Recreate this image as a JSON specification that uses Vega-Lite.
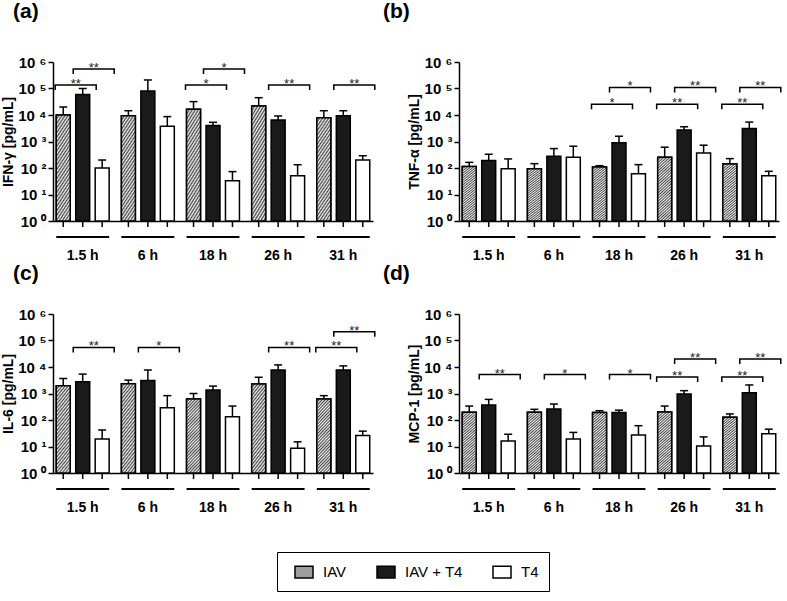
{
  "$schema": "https://vega.github.io/schema/vega-lite/v6.json",
  "padding": {"left": 1, "top": 1, "right": 3, "bottom": 3},
  "datasets": {
    "bars": [
      {"panel":"IFN","time":"1.5 h","group":"IAV","value":10000,"upper":20000},
      {"panel":"IFN","time":"1.5 h","group":"IAV + T4","value":60000,"upper":100000},
      {"panel":"IFN","time":"1.5 h","group":"T4","value":100,"upper":200},
      {"panel":"IFN","time":"6 h","group":"IAV","value":9400,"upper":14500},
      {"panel":"IFN","time":"6 h","group":"IAV + T4","value":80000,"upper":210000},
      {"panel":"IFN","time":"6 h","group":"T4","value":3800,"upper":8700},
      {"panel":"IFN","time":"18 h","group":"IAV","value":16500,"upper":32000},
      {"panel":"IFN","time":"18 h","group":"IAV + T4","value":4000,"upper":5300},
      {"panel":"IFN","time":"18 h","group":"T4","value":33,"upper":73},
      {"panel":"IFN","time":"26 h","group":"IAV","value":22000,"upper":45000},
      {"panel":"IFN","time":"26 h","group":"IAV + T4","value":6500,"upper":9200},
      {"panel":"IFN","time":"26 h","group":"T4","value":51,"upper":133},
      {"panel":"IFN","time":"31 h","group":"IAV","value":7900,"upper":14500},
      {"panel":"IFN","time":"31 h","group":"IAV + T4","value":9400,"upper":14500},
      {"panel":"IFN","time":"31 h","group":"T4","value":200,"upper":290},
      {"panel":"TNF","time":"1.5 h","group":"IAV","value":115,"upper":163},
      {"panel":"TNF","time":"1.5 h","group":"IAV + T4","value":190,"upper":330},
      {"panel":"TNF","time":"1.5 h","group":"T4","value":94,"upper":220},
      {"panel":"TNF","time":"6 h","group":"IAV","value":94,"upper":146},
      {"panel":"TNF","time":"6 h","group":"IAV + T4","value":276,"upper":540},
      {"panel":"TNF","time":"6 h","group":"T4","value":253,"upper":665},
      {"panel":"TNF","time":"18 h","group":"IAV","value":109,"upper":122},
      {"panel":"TNF","time":"18 h","group":"IAV + T4","value":890,"upper":1580},
      {"panel":"TNF","time":"18 h","group":"T4","value":61,"upper":134},
      {"panel":"TNF","time":"26 h","group":"IAV","value":253,"upper":610},
      {"panel":"TNF","time":"26 h","group":"IAV + T4","value":2700,"upper":3600},
      {"panel":"TNF","time":"26 h","group":"T4","value":372,"upper":725},
      {"panel":"TNF","time":"31 h","group":"IAV","value":142,"upper":226},
      {"panel":"TNF","time":"31 h","group":"IAV + T4","value":3100,"upper":5400},
      {"panel":"TNF","time":"31 h","group":"T4","value":51,"upper":75},
      {"panel":"IL6","time":"1.5 h","group":"IAV","value":1960,"upper":3700},
      {"panel":"IL6","time":"1.5 h","group":"IAV + T4","value":2800,"upper":5400},
      {"panel":"IL6","time":"1.5 h","group":"T4","value":19,"upper":42},
      {"panel":"IL6","time":"6 h","group":"IAV","value":2340,"upper":3200},
      {"panel":"IL6","time":"6 h","group":"IAV + T4","value":3100,"upper":7700},
      {"panel":"IL6","time":"6 h","group":"T4","value":290,"upper":830},
      {"panel":"IL6","time":"18 h","group":"IAV","value":620,"upper":1000},
      {"panel":"IL6","time":"18 h","group":"IAV + T4","value":1350,"upper":1900},
      {"panel":"IL6","time":"18 h","group":"T4","value":133,"upper":336},
      {"panel":"IL6","time":"26 h","group":"IAV","value":2300,"upper":4100},
      {"panel":"IL6","time":"26 h","group":"IAV + T4","value":7700,"upper":12000},
      {"panel":"IL6","time":"26 h","group":"T4","value":8.5,"upper":15},
      {"panel":"IL6","time":"31 h","group":"IAV","value":620,"upper":830},
      {"panel":"IL6","time":"31 h","group":"IAV + T4","value":7700,"upper":11000},
      {"panel":"IL6","time":"31 h","group":"T4","value":26,"upper":38},
      {"panel":"MCP","time":"1.5 h","group":"IAV","value":195,"upper":336},
      {"panel":"MCP","time":"1.5 h","group":"IAV + T4","value":370,"upper":600},
      {"panel":"MCP","time":"1.5 h","group":"T4","value":16,"upper":29},
      {"panel":"MCP","time":"6 h","group":"IAV","value":195,"upper":253},
      {"panel":"MCP","time":"6 h","group":"IAV + T4","value":260,"upper":400},
      {"panel":"MCP","time":"6 h","group":"T4","value":19,"upper":34},
      {"panel":"MCP","time":"18 h","group":"IAV","value":190,"upper":224},
      {"panel":"MCP","time":"18 h","group":"IAV + T4","value":190,"upper":235},
      {"panel":"MCP","time":"18 h","group":"T4","value":27,"upper":61},
      {"panel":"MCP","time":"26 h","group":"IAV","value":200,"upper":336},
      {"panel":"MCP","time":"26 h","group":"IAV + T4","value":960,"upper":1280},
      {"panel":"MCP","time":"26 h","group":"T4","value":10.5,"upper":23},
      {"panel":"MCP","time":"31 h","group":"IAV","value":126,"upper":170},
      {"panel":"MCP","time":"31 h","group":"IAV + T4","value":1070,"upper":2100},
      {"panel":"MCP","time":"31 h","group":"T4","value":30,"upper":45}
    ],
    "brackets": [
      {"panel":"IFN","time":"1.5 h","type":"A","level":135000,"label":"**"},
      {"panel":"IFN","time":"1.5 h","type":"B","level":550000,"label":"**"},
      {"panel":"IFN","time":"18 h","type":"A","level":135000,"label":"*"},
      {"panel":"IFN","time":"18 h","type":"B","level":550000,"label":"*"},
      {"panel":"IFN","time":"26 h","type":"B","level":135000,"label":"**"},
      {"panel":"IFN","time":"31 h","type":"B","level":135000,"label":"**"},
      {"panel":"TNF","time":"18 h","type":"A","level":25500,"label":"*"},
      {"panel":"TNF","time":"18 h","type":"B","level":110000,"label":"*"},
      {"panel":"TNF","time":"26 h","type":"A","level":25500,"label":"**"},
      {"panel":"TNF","time":"26 h","type":"B","level":110000,"label":"**"},
      {"panel":"TNF","time":"31 h","type":"A","level":25500,"label":"**"},
      {"panel":"TNF","time":"31 h","type":"B","level":110000,"label":"**"},
      {"panel":"IL6","time":"1.5 h","type":"B","level":55000,"label":"**"},
      {"panel":"IL6","time":"6 h","type":"B","level":55000,"label":"*"},
      {"panel":"IL6","time":"26 h","type":"B","level":55000,"label":"**"},
      {"panel":"IL6","time":"31 h","type":"A","level":55000,"label":"**"},
      {"panel":"IL6","time":"31 h","type":"B","level":215000,"label":"**"},
      {"panel":"MCP","time":"1.5 h","type":"B","level":5200,"label":"**"},
      {"panel":"MCP","time":"6 h","type":"B","level":5200,"label":"*"},
      {"panel":"MCP","time":"18 h","type":"B","level":5200,"label":"*"},
      {"panel":"MCP","time":"26 h","type":"A","level":4200,"label":"**"},
      {"panel":"MCP","time":"26 h","type":"B","level":20000,"label":"**"},
      {"panel":"MCP","time":"31 h","type":"A","level":4200,"label":"**"},
      {"panel":"MCP","time":"31 h","type":"B","level":20000,"label":"**"}
    ]
  },
  "columns": 2,
  "spacing": {"row": 93, "column": 86},
  "bounds": "flush",
  "concat": [
    {
      "width": 320, "height": 159,
      "title": {"text": "(a)", "dx": -40, "offset": 33},
      "data": {"name": "bars"},
      "transform": [{"filter": "datum.panel === 'IFN'"}],
      "layer": [
        {"mark": {"type": "bar", "stroke": "black", "strokeWidth": 1.5},
         "encoding": {
           "x": {"field": "time", "type": "nominal", "scale": {"domain": ["1.5 h","6 h","18 h","26 h","31 h"], "paddingInner": 0.188, "paddingOuter": 0.05}, "axis": {"title": null}},
           "xOffset": {"field": "group", "type": "nominal", "scale": {"domain": ["IAV","IAV + T4","T4"], "paddingInner": 0.282, "paddingOuter": 0}},
           "y": {"field": "value", "type": "quantitative", "scale": {"type": "log", "domain": [1, 1000000], "nice": false}, "axis": {"title": "IFN-γ [pg/mL]", "values": [1,10,100,1000,10000,100000,1000000], "labelExpr": "'10 ' + ['⁰','¹','²','³','⁴','⁵','⁶'][round(log(datum.value)/LN10)]"}},
           "y2": {"datum": 1},
           "fill": {"field": "group", "type": "nominal", "scale": {"domain": ["IAV","IAV + T4","T4"], "range": ["#9d9d9d","#1a1a1a","#ffffff"]},
             "legend": {"orient": "none", "legendX": 224, "legendY": 490, "direction": "horizontal", "title": null,
               "symbolType": "M-1,-0.65H1V0.65H-1Z", "symbolSize": 324, "symbolStrokeColor": "black", "symbolStrokeWidth": 1.5, "symbolOffset": 7,
               "labelFontSize": 15, "labelFont": "Liberation Sans", "labelColor": "black", "labelOffset": 9, "columnPadding": 22,
               "padding": 10, "strokeColor": "black", "fillColor": "white"}}
         }},
        {"transform": [{"filter": "datum.group === 'IAV'"}],
         "mark": {"type": "bar", "stroke": "black", "strokeWidth": 1.5, "fill": {"gradient": "linear", "x1": 0, "y1": 0, "x2": 0.25, "y2": 1.25, "stops": [
           {"offset":0,"color":"#4a4a4a"},{"offset":0.0167,"color":"#f2f2f2"},{"offset":0.0333,"color":"#4a4a4a"},{"offset":0.05,"color":"#f2f2f2"},{"offset":0.0667,"color":"#4a4a4a"},{"offset":0.0833,"color":"#f2f2f2"},{"offset":0.1,"color":"#4a4a4a"},{"offset":0.1167,"color":"#f2f2f2"},{"offset":0.1333,"color":"#4a4a4a"},{"offset":0.15,"color":"#f2f2f2"},{"offset":0.1667,"color":"#4a4a4a"},{"offset":0.1833,"color":"#f2f2f2"},{"offset":0.2,"color":"#4a4a4a"},{"offset":0.2167,"color":"#f2f2f2"},{"offset":0.2333,"color":"#4a4a4a"},{"offset":0.25,"color":"#f2f2f2"},{"offset":0.2667,"color":"#4a4a4a"},{"offset":0.2833,"color":"#f2f2f2"},{"offset":0.3,"color":"#4a4a4a"},{"offset":0.3167,"color":"#f2f2f2"},{"offset":0.3333,"color":"#4a4a4a"},{"offset":0.35,"color":"#f2f2f2"},{"offset":0.3667,"color":"#4a4a4a"},{"offset":0.3833,"color":"#f2f2f2"},{"offset":0.4,"color":"#4a4a4a"},{"offset":0.4167,"color":"#f2f2f2"},{"offset":0.4333,"color":"#4a4a4a"},{"offset":0.45,"color":"#f2f2f2"},{"offset":0.4667,"color":"#4a4a4a"},{"offset":0.4833,"color":"#f2f2f2"},{"offset":0.5,"color":"#4a4a4a"},{"offset":0.5167,"color":"#f2f2f2"},{"offset":0.5333,"color":"#4a4a4a"},{"offset":0.55,"color":"#f2f2f2"},{"offset":0.5667,"color":"#4a4a4a"},{"offset":0.5833,"color":"#f2f2f2"},{"offset":0.6,"color":"#4a4a4a"},{"offset":0.6167,"color":"#f2f2f2"},{"offset":0.6333,"color":"#4a4a4a"},{"offset":0.65,"color":"#f2f2f2"},{"offset":0.6667,"color":"#4a4a4a"},{"offset":0.6833,"color":"#f2f2f2"},{"offset":0.7,"color":"#4a4a4a"},{"offset":0.7167,"color":"#f2f2f2"},{"offset":0.7333,"color":"#4a4a4a"},{"offset":0.75,"color":"#f2f2f2"},{"offset":0.7667,"color":"#4a4a4a"},{"offset":0.7833,"color":"#f2f2f2"},{"offset":0.8,"color":"#4a4a4a"},{"offset":0.8167,"color":"#f2f2f2"},{"offset":0.8333,"color":"#4a4a4a"},{"offset":0.85,"color":"#f2f2f2"},{"offset":0.8667,"color":"#4a4a4a"},{"offset":0.8833,"color":"#f2f2f2"},{"offset":0.9,"color":"#4a4a4a"},{"offset":0.9167,"color":"#f2f2f2"},{"offset":0.9333,"color":"#4a4a4a"},{"offset":0.95,"color":"#f2f2f2"},{"offset":0.9667,"color":"#4a4a4a"},{"offset":0.9833,"color":"#f2f2f2"},{"offset":1,"color":"#4a4a4a"}]}},
         "encoding": {"x": {"field": "time", "type": "nominal"}, "xOffset": {"field": "group", "type": "nominal"}, "y": {"field": "value", "type": "quantitative"}, "y2": {"datum": 1}}},
        {"mark": {"type": "rule", "stroke": "black", "strokeWidth": 1.5},
         "encoding": {"x": {"field": "time", "type": "nominal"}, "xOffset": {"field": "group", "type": "nominal"}, "y": {"field": "value", "type": "quantitative"}, "y2": {"field": "upper"}}},
        {"mark": {"type": "tick", "orient": "horizontal", "color": "black", "opacity": 1, "size": 8, "thickness": 1.5},
         "encoding": {"x": {"field": "time", "type": "nominal"}, "xOffset": {"field": "group", "type": "nominal"}, "y": {"field": "upper", "type": "quantitative"}}},
        {"mark": {"type": "rule", "stroke": "black", "strokeWidth": 1.5, "y2Offset": 6},
         "encoding": {"x": {"field": "time", "type": "nominal"}, "xOffset": {"field": "group", "type": "nominal"}, "y": {"datum": 1}, "y2": {"datum": 1}}},
        {"transform": [{"filter": "datum.group === 'IAV'"}],
         "mark": {"type": "bar", "fill": "black", "yOffset": 15, "y2Offset": 17},
         "encoding": {"x": {"field": "time", "type": "nominal"}, "y": {"datum": 1}, "y2": {"datum": 1}}},
        {"data": {"name": "brackets"}, "transform": [{"filter": "datum.panel === 'IFN' && datum.type === 'A'"}],
         "mark": {"type": "bar", "filled": false, "fill": null, "stroke": "black", "strokeWidth": 1.5, "width": 41, "xOffset": -7, "y2Offset": 5, "strokeDash": [46, 41, 5]},
         "encoding": {"x": {"field": "time", "type": "nominal"}, "y": {"field": "level", "type": "quantitative"}, "y2": {"field": "level"}}},
        {"data": {"name": "brackets"}, "transform": [{"filter": "datum.panel === 'IFN' && datum.type === 'B'"}],
         "mark": {"type": "bar", "filled": false, "fill": null, "stroke": "black", "strokeWidth": 1.5, "width": 41, "xOffset": 11, "y2Offset": 5, "strokeDash": [46, 41, 5]},
         "encoding": {"x": {"field": "time", "type": "nominal"}, "y": {"field": "level", "type": "quantitative"}, "y2": {"field": "level"}}},
        {"data": {"name": "brackets"}, "transform": [{"filter": "datum.panel === 'IFN' && datum.type === 'A'"}],
         "mark": {"type": "text", "xOffset": -7, "fontSize": 13, "color": "#222222", "baseline": "alphabetic", "dy": 3},
         "encoding": {"x": {"field": "time", "type": "nominal"}, "y": {"field": "level", "type": "quantitative"}, "text": {"field": "label"}}},
        {"data": {"name": "brackets"}, "transform": [{"filter": "datum.panel === 'IFN' && datum.type === 'B'"}],
         "mark": {"type": "text", "xOffset": 11, "fontSize": 13, "color": "#222222", "baseline": "alphabetic", "dy": 3},
         "encoding": {"x": {"field": "time", "type": "nominal"}, "y": {"field": "level", "type": "quantitative"}, "text": {"field": "label"}}}
      ]
    },
    {
      "width": 320, "height": 159,
      "title": {"text": "(b)", "dx": -76, "offset": 33},
      "data": {"name": "bars"},
      "transform": [{"filter": "datum.panel === 'TNF'"}],
      "layer": [
        {"mark": {"type": "bar", "stroke": "black", "strokeWidth": 1.5},
         "encoding": {
           "x": {"field": "time", "type": "nominal", "scale": {"domain": ["1.5 h","6 h","18 h","26 h","31 h"], "paddingInner": 0.188, "paddingOuter": 0.05}, "axis": {"title": null}},
           "xOffset": {"field": "group", "type": "nominal", "scale": {"domain": ["IAV","IAV + T4","T4"], "paddingInner": 0.282, "paddingOuter": 0}},
           "y": {"field": "value", "type": "quantitative", "scale": {"type": "log", "domain": [1, 1000000], "nice": false}, "axis": {"title": "TNF-α [pg/mL]", "values": [1,10,100,1000,10000,100000,1000000], "labelExpr": "'10 ' + ['⁰','¹','²','³','⁴','⁵','⁶'][round(log(datum.value)/LN10)]"}},
           "y2": {"datum": 1},
           "fill": {"field": "group", "type": "nominal", "scale": {"domain": ["IAV","IAV + T4","T4"], "range": ["#9d9d9d","#1a1a1a","#ffffff"]}}
         }},
        {"transform": [{"filter": "datum.group === 'IAV'"}],
         "mark": {"type": "bar", "stroke": "black", "strokeWidth": 1.5, "fill": {"gradient": "linear", "x1": 0, "y1": 0, "x2": 0.25, "y2": 1.25, "stops": [
           {"offset":0,"color":"#4a4a4a"},{"offset":0.0167,"color":"#f2f2f2"},{"offset":0.0333,"color":"#4a4a4a"},{"offset":0.05,"color":"#f2f2f2"},{"offset":0.0667,"color":"#4a4a4a"},{"offset":0.0833,"color":"#f2f2f2"},{"offset":0.1,"color":"#4a4a4a"},{"offset":0.1167,"color":"#f2f2f2"},{"offset":0.1333,"color":"#4a4a4a"},{"offset":0.15,"color":"#f2f2f2"},{"offset":0.1667,"color":"#4a4a4a"},{"offset":0.1833,"color":"#f2f2f2"},{"offset":0.2,"color":"#4a4a4a"},{"offset":0.2167,"color":"#f2f2f2"},{"offset":0.2333,"color":"#4a4a4a"},{"offset":0.25,"color":"#f2f2f2"},{"offset":0.2667,"color":"#4a4a4a"},{"offset":0.2833,"color":"#f2f2f2"},{"offset":0.3,"color":"#4a4a4a"},{"offset":0.3167,"color":"#f2f2f2"},{"offset":0.3333,"color":"#4a4a4a"},{"offset":0.35,"color":"#f2f2f2"},{"offset":0.3667,"color":"#4a4a4a"},{"offset":0.3833,"color":"#f2f2f2"},{"offset":0.4,"color":"#4a4a4a"},{"offset":0.4167,"color":"#f2f2f2"},{"offset":0.4333,"color":"#4a4a4a"},{"offset":0.45,"color":"#f2f2f2"},{"offset":0.4667,"color":"#4a4a4a"},{"offset":0.4833,"color":"#f2f2f2"},{"offset":0.5,"color":"#4a4a4a"},{"offset":0.5167,"color":"#f2f2f2"},{"offset":0.5333,"color":"#4a4a4a"},{"offset":0.55,"color":"#f2f2f2"},{"offset":0.5667,"color":"#4a4a4a"},{"offset":0.5833,"color":"#f2f2f2"},{"offset":0.6,"color":"#4a4a4a"},{"offset":0.6167,"color":"#f2f2f2"},{"offset":0.6333,"color":"#4a4a4a"},{"offset":0.65,"color":"#f2f2f2"},{"offset":0.6667,"color":"#4a4a4a"},{"offset":0.6833,"color":"#f2f2f2"},{"offset":0.7,"color":"#4a4a4a"},{"offset":0.7167,"color":"#f2f2f2"},{"offset":0.7333,"color":"#4a4a4a"},{"offset":0.75,"color":"#f2f2f2"},{"offset":0.7667,"color":"#4a4a4a"},{"offset":0.7833,"color":"#f2f2f2"},{"offset":0.8,"color":"#4a4a4a"},{"offset":0.8167,"color":"#f2f2f2"},{"offset":0.8333,"color":"#4a4a4a"},{"offset":0.85,"color":"#f2f2f2"},{"offset":0.8667,"color":"#4a4a4a"},{"offset":0.8833,"color":"#f2f2f2"},{"offset":0.9,"color":"#4a4a4a"},{"offset":0.9167,"color":"#f2f2f2"},{"offset":0.9333,"color":"#4a4a4a"},{"offset":0.95,"color":"#f2f2f2"},{"offset":0.9667,"color":"#4a4a4a"},{"offset":0.9833,"color":"#f2f2f2"},{"offset":1,"color":"#4a4a4a"}]}},
         "encoding": {"x": {"field": "time", "type": "nominal"}, "xOffset": {"field": "group", "type": "nominal"}, "y": {"field": "value", "type": "quantitative"}, "y2": {"datum": 1}}},
        {"mark": {"type": "rule", "stroke": "black", "strokeWidth": 1.5},
         "encoding": {"x": {"field": "time", "type": "nominal"}, "xOffset": {"field": "group", "type": "nominal"}, "y": {"field": "value", "type": "quantitative"}, "y2": {"field": "upper"}}},
        {"mark": {"type": "tick", "orient": "horizontal", "color": "black", "opacity": 1, "size": 8, "thickness": 1.5},
         "encoding": {"x": {"field": "time", "type": "nominal"}, "xOffset": {"field": "group", "type": "nominal"}, "y": {"field": "upper", "type": "quantitative"}}},
        {"mark": {"type": "rule", "stroke": "black", "strokeWidth": 1.5, "y2Offset": 6},
         "encoding": {"x": {"field": "time", "type": "nominal"}, "xOffset": {"field": "group", "type": "nominal"}, "y": {"datum": 1}, "y2": {"datum": 1}}},
        {"transform": [{"filter": "datum.group === 'IAV'"}],
         "mark": {"type": "bar", "fill": "black", "yOffset": 15, "y2Offset": 17},
         "encoding": {"x": {"field": "time", "type": "nominal"}, "y": {"datum": 1}, "y2": {"datum": 1}}},
        {"data": {"name": "brackets"}, "transform": [{"filter": "datum.panel === 'TNF' && datum.type === 'A'"}],
         "mark": {"type": "bar", "filled": false, "fill": null, "stroke": "black", "strokeWidth": 1.5, "width": 41, "xOffset": -7, "y2Offset": 5, "strokeDash": [46, 41, 5]},
         "encoding": {"x": {"field": "time", "type": "nominal"}, "y": {"field": "level", "type": "quantitative"}, "y2": {"field": "level"}}},
        {"data": {"name": "brackets"}, "transform": [{"filter": "datum.panel === 'TNF' && datum.type === 'B'"}],
         "mark": {"type": "bar", "filled": false, "fill": null, "stroke": "black", "strokeWidth": 1.5, "width": 41, "xOffset": 11, "y2Offset": 5, "strokeDash": [46, 41, 5]},
         "encoding": {"x": {"field": "time", "type": "nominal"}, "y": {"field": "level", "type": "quantitative"}, "y2": {"field": "level"}}},
        {"data": {"name": "brackets"}, "transform": [{"filter": "datum.panel === 'TNF' && datum.type === 'A'"}],
         "mark": {"type": "text", "xOffset": -7, "fontSize": 13, "color": "#222222", "baseline": "alphabetic", "dy": 3},
         "encoding": {"x": {"field": "time", "type": "nominal"}, "y": {"field": "level", "type": "quantitative"}, "text": {"field": "label"}}},
        {"data": {"name": "brackets"}, "transform": [{"filter": "datum.panel === 'TNF' && datum.type === 'B'"}],
         "mark": {"type": "text", "xOffset": 11, "fontSize": 13, "color": "#222222", "baseline": "alphabetic", "dy": 3},
         "encoding": {"x": {"field": "time", "type": "nominal"}, "y": {"field": "level", "type": "quantitative"}, "text": {"field": "label"}}}
      ]
    },
    {
      "width": 320, "height": 159,
      "title": {"text": "(c)", "dx": -40, "offset": 23},
      "data": {"name": "bars"},
      "transform": [{"filter": "datum.panel === 'IL6'"}],
      "layer": [
        {"mark": {"type": "bar", "stroke": "black", "strokeWidth": 1.5},
         "encoding": {
           "x": {"field": "time", "type": "nominal", "scale": {"domain": ["1.5 h","6 h","18 h","26 h","31 h"], "paddingInner": 0.188, "paddingOuter": 0.05}, "axis": {"title": null}},
           "xOffset": {"field": "group", "type": "nominal", "scale": {"domain": ["IAV","IAV + T4","T4"], "paddingInner": 0.282, "paddingOuter": 0}},
           "y": {"field": "value", "type": "quantitative", "scale": {"type": "log", "domain": [1, 1000000], "nice": false}, "axis": {"title": "IL-6 [pg/mL]", "values": [1,10,100,1000,10000,100000,1000000], "labelExpr": "'10 ' + ['⁰','¹','²','³','⁴','⁵','⁶'][round(log(datum.value)/LN10)]"}},
           "y2": {"datum": 1},
           "fill": {"field": "group", "type": "nominal", "scale": {"domain": ["IAV","IAV + T4","T4"], "range": ["#9d9d9d","#1a1a1a","#ffffff"]}}
         }},
        {"transform": [{"filter": "datum.group === 'IAV'"}],
         "mark": {"type": "bar", "stroke": "black", "strokeWidth": 1.5, "fill": {"gradient": "linear", "x1": 0, "y1": 0, "x2": 0.25, "y2": 1.25, "stops": [
           {"offset":0,"color":"#4a4a4a"},{"offset":0.0167,"color":"#f2f2f2"},{"offset":0.0333,"color":"#4a4a4a"},{"offset":0.05,"color":"#f2f2f2"},{"offset":0.0667,"color":"#4a4a4a"},{"offset":0.0833,"color":"#f2f2f2"},{"offset":0.1,"color":"#4a4a4a"},{"offset":0.1167,"color":"#f2f2f2"},{"offset":0.1333,"color":"#4a4a4a"},{"offset":0.15,"color":"#f2f2f2"},{"offset":0.1667,"color":"#4a4a4a"},{"offset":0.1833,"color":"#f2f2f2"},{"offset":0.2,"color":"#4a4a4a"},{"offset":0.2167,"color":"#f2f2f2"},{"offset":0.2333,"color":"#4a4a4a"},{"offset":0.25,"color":"#f2f2f2"},{"offset":0.2667,"color":"#4a4a4a"},{"offset":0.2833,"color":"#f2f2f2"},{"offset":0.3,"color":"#4a4a4a"},{"offset":0.3167,"color":"#f2f2f2"},{"offset":0.3333,"color":"#4a4a4a"},{"offset":0.35,"color":"#f2f2f2"},{"offset":0.3667,"color":"#4a4a4a"},{"offset":0.3833,"color":"#f2f2f2"},{"offset":0.4,"color":"#4a4a4a"},{"offset":0.4167,"color":"#f2f2f2"},{"offset":0.4333,"color":"#4a4a4a"},{"offset":0.45,"color":"#f2f2f2"},{"offset":0.4667,"color":"#4a4a4a"},{"offset":0.4833,"color":"#f2f2f2"},{"offset":0.5,"color":"#4a4a4a"},{"offset":0.5167,"color":"#f2f2f2"},{"offset":0.5333,"color":"#4a4a4a"},{"offset":0.55,"color":"#f2f2f2"},{"offset":0.5667,"color":"#4a4a4a"},{"offset":0.5833,"color":"#f2f2f2"},{"offset":0.6,"color":"#4a4a4a"},{"offset":0.6167,"color":"#f2f2f2"},{"offset":0.6333,"color":"#4a4a4a"},{"offset":0.65,"color":"#f2f2f2"},{"offset":0.6667,"color":"#4a4a4a"},{"offset":0.6833,"color":"#f2f2f2"},{"offset":0.7,"color":"#4a4a4a"},{"offset":0.7167,"color":"#f2f2f2"},{"offset":0.7333,"color":"#4a4a4a"},{"offset":0.75,"color":"#f2f2f2"},{"offset":0.7667,"color":"#4a4a4a"},{"offset":0.7833,"color":"#f2f2f2"},{"offset":0.8,"color":"#4a4a4a"},{"offset":0.8167,"color":"#f2f2f2"},{"offset":0.8333,"color":"#4a4a4a"},{"offset":0.85,"color":"#f2f2f2"},{"offset":0.8667,"color":"#4a4a4a"},{"offset":0.8833,"color":"#f2f2f2"},{"offset":0.9,"color":"#4a4a4a"},{"offset":0.9167,"color":"#f2f2f2"},{"offset":0.9333,"color":"#4a4a4a"},{"offset":0.95,"color":"#f2f2f2"},{"offset":0.9667,"color":"#4a4a4a"},{"offset":0.9833,"color":"#f2f2f2"},{"offset":1,"color":"#4a4a4a"}]}},
         "encoding": {"x": {"field": "time", "type": "nominal"}, "xOffset": {"field": "group", "type": "nominal"}, "y": {"field": "value", "type": "quantitative"}, "y2": {"datum": 1}}},
        {"mark": {"type": "rule", "stroke": "black", "strokeWidth": 1.5},
         "encoding": {"x": {"field": "time", "type": "nominal"}, "xOffset": {"field": "group", "type": "nominal"}, "y": {"field": "value", "type": "quantitative"}, "y2": {"field": "upper"}}},
        {"mark": {"type": "tick", "orient": "horizontal", "color": "black", "opacity": 1, "size": 8, "thickness": 1.5},
         "encoding": {"x": {"field": "time", "type": "nominal"}, "xOffset": {"field": "group", "type": "nominal"}, "y": {"field": "upper", "type": "quantitative"}}},
        {"mark": {"type": "rule", "stroke": "black", "strokeWidth": 1.5, "y2Offset": 6},
         "encoding": {"x": {"field": "time", "type": "nominal"}, "xOffset": {"field": "group", "type": "nominal"}, "y": {"datum": 1}, "y2": {"datum": 1}}},
        {"transform": [{"filter": "datum.group === 'IAV'"}],
         "mark": {"type": "bar", "fill": "black", "yOffset": 15, "y2Offset": 17},
         "encoding": {"x": {"field": "time", "type": "nominal"}, "y": {"datum": 1}, "y2": {"datum": 1}}},
        {"data": {"name": "brackets"}, "transform": [{"filter": "datum.panel === 'IL6' && datum.type === 'A'"}],
         "mark": {"type": "bar", "filled": false, "fill": null, "stroke": "black", "strokeWidth": 1.5, "width": 41, "xOffset": -7, "y2Offset": 5, "strokeDash": [46, 41, 5]},
         "encoding": {"x": {"field": "time", "type": "nominal"}, "y": {"field": "level", "type": "quantitative"}, "y2": {"field": "level"}}},
        {"data": {"name": "brackets"}, "transform": [{"filter": "datum.panel === 'IL6' && datum.type === 'B'"}],
         "mark": {"type": "bar", "filled": false, "fill": null, "stroke": "black", "strokeWidth": 1.5, "width": 41, "xOffset": 11, "y2Offset": 5, "strokeDash": [46, 41, 5]},
         "encoding": {"x": {"field": "time", "type": "nominal"}, "y": {"field": "level", "type": "quantitative"}, "y2": {"field": "level"}}},
        {"data": {"name": "brackets"}, "transform": [{"filter": "datum.panel === 'IL6' && datum.type === 'A'"}],
         "mark": {"type": "text", "xOffset": -7, "fontSize": 13, "color": "#222222", "baseline": "alphabetic", "dy": 3},
         "encoding": {"x": {"field": "time", "type": "nominal"}, "y": {"field": "level", "type": "quantitative"}, "text": {"field": "label"}}},
        {"data": {"name": "brackets"}, "transform": [{"filter": "datum.panel === 'IL6' && datum.type === 'B'"}],
         "mark": {"type": "text", "xOffset": 11, "fontSize": 13, "color": "#222222", "baseline": "alphabetic", "dy": 3},
         "encoding": {"x": {"field": "time", "type": "nominal"}, "y": {"field": "level", "type": "quantitative"}, "text": {"field": "label"}}}
      ]
    },
    {
      "width": 320, "height": 159,
      "title": {"text": "(d)", "dx": -76, "offset": 23},
      "data": {"name": "bars"},
      "transform": [{"filter": "datum.panel === 'MCP'"}],
      "layer": [
        {"mark": {"type": "bar", "stroke": "black", "strokeWidth": 1.5},
         "encoding": {
           "x": {"field": "time", "type": "nominal", "scale": {"domain": ["1.5 h","6 h","18 h","26 h","31 h"], "paddingInner": 0.188, "paddingOuter": 0.05}, "axis": {"title": null}},
           "xOffset": {"field": "group", "type": "nominal", "scale": {"domain": ["IAV","IAV + T4","T4"], "paddingInner": 0.282, "paddingOuter": 0}},
           "y": {"field": "value", "type": "quantitative", "scale": {"type": "log", "domain": [1, 1000000], "nice": false}, "axis": {"title": "MCP-1 [pg/mL]", "values": [1,10,100,1000,10000,100000,1000000], "labelExpr": "'10 ' + ['⁰','¹','²','³','⁴','⁵','⁶'][round(log(datum.value)/LN10)]"}},
           "y2": {"datum": 1},
           "fill": {"field": "group", "type": "nominal", "scale": {"domain": ["IAV","IAV + T4","T4"], "range": ["#9d9d9d","#1a1a1a","#ffffff"]}}
         }},
        {"transform": [{"filter": "datum.group === 'IAV'"}],
         "mark": {"type": "bar", "stroke": "black", "strokeWidth": 1.5, "fill": {"gradient": "linear", "x1": 0, "y1": 0, "x2": 0.25, "y2": 1.25, "stops": [
           {"offset":0,"color":"#4a4a4a"},{"offset":0.0167,"color":"#f2f2f2"},{"offset":0.0333,"color":"#4a4a4a"},{"offset":0.05,"color":"#f2f2f2"},{"offset":0.0667,"color":"#4a4a4a"},{"offset":0.0833,"color":"#f2f2f2"},{"offset":0.1,"color":"#4a4a4a"},{"offset":0.1167,"color":"#f2f2f2"},{"offset":0.1333,"color":"#4a4a4a"},{"offset":0.15,"color":"#f2f2f2"},{"offset":0.1667,"color":"#4a4a4a"},{"offset":0.1833,"color":"#f2f2f2"},{"offset":0.2,"color":"#4a4a4a"},{"offset":0.2167,"color":"#f2f2f2"},{"offset":0.2333,"color":"#4a4a4a"},{"offset":0.25,"color":"#f2f2f2"},{"offset":0.2667,"color":"#4a4a4a"},{"offset":0.2833,"color":"#f2f2f2"},{"offset":0.3,"color":"#4a4a4a"},{"offset":0.3167,"color":"#f2f2f2"},{"offset":0.3333,"color":"#4a4a4a"},{"offset":0.35,"color":"#f2f2f2"},{"offset":0.3667,"color":"#4a4a4a"},{"offset":0.3833,"color":"#f2f2f2"},{"offset":0.4,"color":"#4a4a4a"},{"offset":0.4167,"color":"#f2f2f2"},{"offset":0.4333,"color":"#4a4a4a"},{"offset":0.45,"color":"#f2f2f2"},{"offset":0.4667,"color":"#4a4a4a"},{"offset":0.4833,"color":"#f2f2f2"},{"offset":0.5,"color":"#4a4a4a"},{"offset":0.5167,"color":"#f2f2f2"},{"offset":0.5333,"color":"#4a4a4a"},{"offset":0.55,"color":"#f2f2f2"},{"offset":0.5667,"color":"#4a4a4a"},{"offset":0.5833,"color":"#f2f2f2"},{"offset":0.6,"color":"#4a4a4a"},{"offset":0.6167,"color":"#f2f2f2"},{"offset":0.6333,"color":"#4a4a4a"},{"offset":0.65,"color":"#f2f2f2"},{"offset":0.6667,"color":"#4a4a4a"},{"offset":0.6833,"color":"#f2f2f2"},{"offset":0.7,"color":"#4a4a4a"},{"offset":0.7167,"color":"#f2f2f2"},{"offset":0.7333,"color":"#4a4a4a"},{"offset":0.75,"color":"#f2f2f2"},{"offset":0.7667,"color":"#4a4a4a"},{"offset":0.7833,"color":"#f2f2f2"},{"offset":0.8,"color":"#4a4a4a"},{"offset":0.8167,"color":"#f2f2f2"},{"offset":0.8333,"color":"#4a4a4a"},{"offset":0.85,"color":"#f2f2f2"},{"offset":0.8667,"color":"#4a4a4a"},{"offset":0.8833,"color":"#f2f2f2"},{"offset":0.9,"color":"#4a4a4a"},{"offset":0.9167,"color":"#f2f2f2"},{"offset":0.9333,"color":"#4a4a4a"},{"offset":0.95,"color":"#f2f2f2"},{"offset":0.9667,"color":"#4a4a4a"},{"offset":0.9833,"color":"#f2f2f2"},{"offset":1,"color":"#4a4a4a"}]}},
         "encoding": {"x": {"field": "time", "type": "nominal"}, "xOffset": {"field": "group", "type": "nominal"}, "y": {"field": "value", "type": "quantitative"}, "y2": {"datum": 1}}},
        {"mark": {"type": "rule", "stroke": "black", "strokeWidth": 1.5},
         "encoding": {"x": {"field": "time", "type": "nominal"}, "xOffset": {"field": "group", "type": "nominal"}, "y": {"field": "value", "type": "quantitative"}, "y2": {"field": "upper"}}},
        {"mark": {"type": "tick", "orient": "horizontal", "color": "black", "opacity": 1, "size": 8, "thickness": 1.5},
         "encoding": {"x": {"field": "time", "type": "nominal"}, "xOffset": {"field": "group", "type": "nominal"}, "y": {"field": "upper", "type": "quantitative"}}},
        {"mark": {"type": "rule", "stroke": "black", "strokeWidth": 1.5, "y2Offset": 6},
         "encoding": {"x": {"field": "time", "type": "nominal"}, "xOffset": {"field": "group", "type": "nominal"}, "y": {"datum": 1}, "y2": {"datum": 1}}},
        {"transform": [{"filter": "datum.group === 'IAV'"}],
         "mark": {"type": "bar", "fill": "black", "yOffset": 15, "y2Offset": 17},
         "encoding": {"x": {"field": "time", "type": "nominal"}, "y": {"datum": 1}, "y2": {"datum": 1}}},
        {"data": {"name": "brackets"}, "transform": [{"filter": "datum.panel === 'MCP' && datum.type === 'A'"}],
         "mark": {"type": "bar", "filled": false, "fill": null, "stroke": "black", "strokeWidth": 1.5, "width": 41, "xOffset": -7, "y2Offset": 5, "strokeDash": [46, 41, 5]},
         "encoding": {"x": {"field": "time", "type": "nominal"}, "y": {"field": "level", "type": "quantitative"}, "y2": {"field": "level"}}},
        {"data": {"name": "brackets"}, "transform": [{"filter": "datum.panel === 'MCP' && datum.type === 'B'"}],
         "mark": {"type": "bar", "filled": false, "fill": null, "stroke": "black", "strokeWidth": 1.5, "width": 41, "xOffset": 11, "y2Offset": 5, "strokeDash": [46, 41, 5]},
         "encoding": {"x": {"field": "time", "type": "nominal"}, "y": {"field": "level", "type": "quantitative"}, "y2": {"field": "level"}}},
        {"data": {"name": "brackets"}, "transform": [{"filter": "datum.panel === 'MCP' && datum.type === 'A'"}],
         "mark": {"type": "text", "xOffset": -7, "fontSize": 13, "color": "#222222", "baseline": "alphabetic", "dy": 3},
         "encoding": {"x": {"field": "time", "type": "nominal"}, "y": {"field": "level", "type": "quantitative"}, "text": {"field": "label"}}},
        {"data": {"name": "brackets"}, "transform": [{"filter": "datum.panel === 'MCP' && datum.type === 'B'"}],
         "mark": {"type": "text", "xOffset": 11, "fontSize": 13, "color": "#222222", "baseline": "alphabetic", "dy": 3},
         "encoding": {"x": {"field": "time", "type": "nominal"}, "y": {"field": "level", "type": "quantitative"}, "text": {"field": "label"}}}
      ]
    }
  ],
  "config": {
    "font": "Liberation Sans",
    "view": {"stroke": null},
    "axis": {"domainColor": "black", "domainWidth": 1.5, "tickColor": "black", "tickWidth": 1.5, "labelColor": "black", "labelFont": "Liberation Sans", "labelFontWeight": "bold", "titleColor": "black", "titleFont": "Liberation Sans", "titleFontWeight": "bold", "grid": false},
    "axisY": {"tickSize": 5, "labelPadding": 2, "labelFontSize": 15, "titleFontSize": 14, "titlePadding": 2},
    "axisX": {"ticks": false, "tickSize": 0, "labelFontSize": 14, "labelPadding": 27, "labelAngle": 0},
    "title": {"anchor": "start", "frame": "group", "fontSize": 21, "fontWeight": "bold", "color": "black", "font": "Liberation Sans", "baseline": "alphabetic"}
  }
}
